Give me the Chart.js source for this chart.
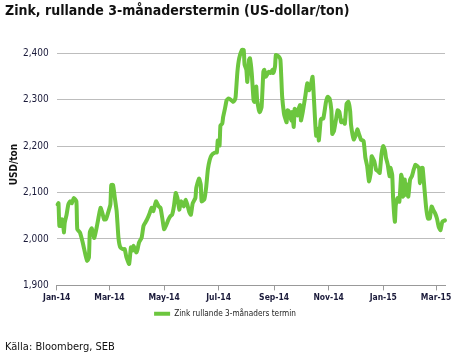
<!DOCTYPE html>
<html>
<head>
<meta charset="utf-8">
<script src="https://cdn.jsdelivr.net/npm/chart.js@4/dist/chart.umd.min.js"></script>
<style>
  html, body { margin: 0; padding: 0; background: #fff; }
  #wrap { width: 457px; height: 360px; position: relative; }
</style>
</head>
<body>
<div id="wrap"><canvas id="c"></canvas></div>
<script>
// zink 3m forward, daily-ish readings
// x = days since 2014-01-01
const days = [
  1, 2, 3, 5, 6, 7, 8, 9, 11, 13, 15, 17, 19, 22, 23, 26, 29, 32, 34, 36,
  37, 39, 40, 42, 45, 47, 49, 51, 53, 55, 58, 60, 61, 63, 65, 67, 69, 71, 74, 76,
  78, 81, 83, 85, 86, 89, 90, 92, 95, 97, 99, 101, 104, 106, 108, 111, 114, 116, 118, 120,
  122, 125, 127, 129, 131, 133, 135, 137, 139, 142, 144, 146, 148, 150, 152, 155, 156, 159, 161, 162,
  165, 167, 169, 171, 173, 177, 179, 180, 182, 183, 185, 186, 188, 190, 192, 195, 197, 199, 200, 202,
  204, 207, 209, 210, 212, 213, 215, 216, 218, 220, 221, 223, 224, 226, 227, 229, 231, 232, 234, 237,
  239, 241, 242, 244, 245, 248, 250, 251, 252, 254, 255, 257, 258, 260, 262, 263, 265, 266, 269, 270,
  272, 273, 275, 278, 280, 282, 284, 286, 287, 289, 290, 292, 293, 295, 296, 298, 301, 303, 305, 307,
  308, 310, 312, 314, 316, 318, 320, 322, 324, 326, 328, 329, 332, 334, 336, 338, 340, 343, 345, 347,
  349, 351, 352, 355, 357, 359, 361, 363, 365, 367, 368, 370, 372, 373, 375, 376, 378, 379, 381, 383,
  385, 386, 387, 389, 390, 392, 393, 395, 397, 399, 401, 403, 405, 406, 408, 409, 411, 413, 415, 417,
  419, 421, 423, 425, 427, 429, 431, 434
];
const prices = [
  2074, 2077, 2028, 2028, 2042, 2038, 2014, 2035, 2052, 2074, 2081, 2077, 2088, 2081, 2021, 2014, 1993, 1967, 1953, 1960,
  2014, 2023, 2017, 2002, 2028, 2049, 2067, 2056, 2042, 2042, 2060, 2074, 2116, 2116, 2088, 2060, 2003, 1982, 1978, 1978,
  1960, 1946, 1982, 1975, 1985, 1971, 1975, 1992, 2003, 2028, 2035, 2042, 2056, 2067, 2060, 2081, 2070, 2067, 2045, 2021,
  2028, 2042, 2049, 2052, 2070, 2099, 2088, 2063, 2081, 2070, 2084, 2074, 2059, 2052, 2077, 2088, 2110, 2130, 2117, 2081,
  2085, 2110, 2150, 2170, 2180, 2186, 2186, 2212, 2201, 2244, 2248, 2262, 2280, 2299, 2302, 2299, 2295, 2299, 2306, 2360,
  2389, 2407, 2407, 2375, 2364, 2338, 2386, 2389, 2357, 2299, 2295, 2328, 2300, 2277, 2273, 2284, 2360, 2364, 2349, 2360,
  2357, 2364, 2357, 2371, 2396, 2393, 2386, 2349, 2306, 2270, 2262, 2251, 2277, 2273, 2255, 2273, 2241, 2280, 2266, 2277,
  2288, 2255, 2273, 2309, 2335, 2320, 2331, 2349, 2320, 2248, 2222, 2237, 2212, 2255, 2259, 2259, 2295, 2306, 2302, 2277,
  2226, 2233, 2255, 2277, 2273, 2251, 2255, 2248, 2291, 2295, 2275, 2245, 2214, 2222, 2236, 2225, 2214, 2211, 2175, 2157,
  2124, 2142, 2178, 2167, 2149, 2146, 2142, 2182, 2200, 2189, 2175, 2160, 2135, 2153, 2138, 2088, 2037, 2073, 2088, 2080,
  2138, 2131, 2091, 2128, 2095, 2117, 2091, 2128, 2135, 2149, 2160, 2157, 2153, 2120, 2153, 2153, 2109, 2066, 2044, 2044,
  2070, 2062, 2055, 2044, 2026, 2019, 2037, 2040
];

const monthTicks = [0, 59, 120, 181, 243, 304, 365, 424];
const monthLabels = ['Jan-14', 'Mar-14', 'May-14', 'Jul-14', 'Sep-14', 'Nov-14', 'Jan-15', 'Mar-15'];
const yTicks = [1900, 2000, 2100, 2200, 2300, 2400];

const GREEN = '#6cc63e';
const FONT = '"Liberation Sans Narrow", "DejaVu Sans Condensed", "Liberation Sans", sans-serif';
const INK = '#1a1a3a';

Chart.defaults.font.family = FONT;
Chart.defaults.color = INK;

new Chart(document.getElementById('c'), {
  type: 'line',
  data: {
    datasets: [{
      label: 'Zink rullande 3-månaders termin',
      data: days.map((d, i) => ({ x: d, y: prices[i] })),
      borderColor: GREEN,
      backgroundColor: GREEN,
      borderWidth: 4,
      pointRadius: 0,
      tension: 0.15,
      borderJoinStyle: 'round',
      borderCapStyle: 'round',
      clip: false
    }]
  },
  options: {
    responsive: true,
    maintainAspectRatio: false,
    animation: false,
    layout: { padding: { left: 5, right: 12, top: 0, bottom: 0 } },
    plugins: {
      title: {
        display: true,
        text: 'Zink, rullande 3-månaderstermin (US-dollar/ton)',
        align: 'start',
        color: '#111',
        font: { size: 14, weight: 'bold' },
        padding: { top: 3, bottom: 24 }
      },
      subtitle: {
        display: true,
        position: 'bottom',
        text: 'Källa: Bloomberg, SEB',
        align: 'start',
        color: '#111',
        font: { size: 11 },
        padding: { top: 13, bottom: 6 }
      },
      legend: {
        position: 'bottom',
        labels: {
          boxWidth: 16,
          boxHeight: 4,
          padding: 5,
          font: { size: 8.2 },
          color: '#222',
          generateLabels: chart => Chart.defaults.plugins.legend.labels.generateLabels(chart)
            .map(l => ({ ...l, lineWidth: 0, fillStyle: GREEN }))
        }
      },
      tooltip: { enabled: false }
    },
    scales: {
      x: {
        type: 'linear',
        min: 0,
        max: 434,
        afterBuildTicks: s => { s.ticks = monthTicks.map(v => ({ value: v })); },
        ticks: {
          autoSkip: false,
          maxRotation: 0,
          padding: 2,
          font: { size: 8.5, weight: 'bold' },
          callback: (v, i) => monthLabels[i]
        },
        grid: { drawOnChartArea: false, drawTicks: true, tickLength: 5, color: '#999' },
        border: { color: '#999' }
      },
      y: {
        min: 1900,
        max: 2420,
        afterBuildTicks: s => { s.ticks = yTicks.map(v => ({ value: v })); },
        afterFit: s => { s.width = 51.7; },
        ticks: {
          padding: 8,
          font: { size: 10 },
          callback: v => v.toLocaleString('en-US')
        },
        grid: { color: '#bdbdbd', drawTicks: false },
        border: { display: false },
        title: {
          display: true,
          text: 'USD/ton',
          font: { size: 10, weight: 'bold' },
          color: '#111',
          padding: { top: 3, bottom: 4 }
        }
      }
    }
  }
});
</script>
</body>
</html>
